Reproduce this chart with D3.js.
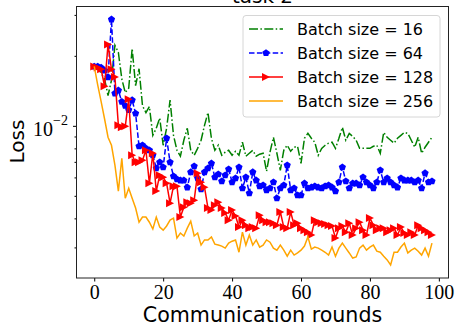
<!DOCTYPE html>
<html>
<head>
<meta charset="utf-8">
<script src="https://cdn.jsdelivr.net/npm/d3@7"></script>
<style>
  body { margin: 0; background: #fff; }
  svg { display: block; }
</style>
</head>
<body>
<div id="chart"></div>
<script>
// loss per communication round (round = array index 0..98)
const loss16 = [
  0.0180, 0.0176, 0.0169, 0.0159, 0.0135, 0.0157, 0.0222, 0.0207, 0.0159, 0.0139,
  0.0145, 0.0215, 0.0149, 0.0176, 0.0122, 0.0114, 0.0121, 0.00910, 0.00976, 0.0108,
  0.00825, 0.00976, 0.0129, 0.00910, 0.00785, 0.00740, 0.00867, 0.00976, 0.00785, 0.00747,
  0.00800, 0.00867, 0.01005, 0.0114, 0.00884, 0.00785, 0.00825, 0.00747, 0.00770, 0.00785,
  0.00747, 0.00777, 0.00747, 0.00850, 0.00740, 0.00762, 0.00785, 0.00740, 0.00755, 0.00762,
  0.00638, 0.00770, 0.00893, 0.00762, 0.00644, 0.00785, 0.00825, 0.00777, 0.00809, 0.00817,
  0.00690, 0.00884, 0.00928, 0.00884, 0.00850, 0.00747, 0.00800, 0.00825, 0.00842, 0.00850,
  0.00800, 0.00884, 0.00985, 0.00867, 0.00928, 0.00901, 0.00867, 0.00800, 0.00800, 0.00800,
  0.00800, 0.00817, 0.00825, 0.00762, 0.00937, 0.00893, 0.00867, 0.00842, 0.00884, 0.00910,
  0.00937, 0.00928, 0.00867, 0.00809, 0.00893, 0.00762, 0.00809, 0.00850, 0.00893
];
const loss64 = [
  0.0180, 0.0180, 0.0178, 0.0173, 0.0162, 0.0287, 0.0138, 0.0142, 0.0127, 0.0122,
  0.0117, 0.0129, 0.0113, 0.00817, 0.00825, 0.00800, 0.00785, 0.00747, 0.00657, 0.00697,
  0.00664, 0.00884, 0.00697, 0.00607, 0.00589, 0.00583, 0.00583, 0.00544, 0.00632, 0.00670,
  0.00595, 0.00534, 0.00632, 0.00657, 0.00690, 0.00601, 0.00619, 0.00578, 0.00613, 0.00651,
  0.00572, 0.00595, 0.00664, 0.00539, 0.00601, 0.00513, 0.00632, 0.00583, 0.00550, 0.00555,
  0.00529, 0.00539, 0.00572, 0.00488, 0.00539, 0.00555, 0.00677, 0.00529, 0.00539, 0.00503,
  0.00503, 0.00566, 0.00539, 0.00544, 0.00550, 0.00544, 0.00539, 0.00550, 0.00555, 0.00544,
  0.00524, 0.00572, 0.00664, 0.00578, 0.00539, 0.00566, 0.00566, 0.00555, 0.00601, 0.00572,
  0.00555, 0.00539, 0.00572, 0.00644, 0.00572, 0.00595, 0.00572, 0.00555, 0.00544, 0.00595,
  0.00583, 0.00583, 0.00583, 0.00572, 0.00583, 0.00539, 0.00626, 0.00572, 0.00578
];
const loss128 = [
  0.0180, 0.0178, 0.0175, 0.0148, 0.0224, 0.0175, 0.0162, 0.01005, 0.00985, 0.00995,
  0.0130, 0.00747, 0.00697, 0.00697, 0.00711, 0.00785, 0.00566, 0.00762, 0.00524, 0.00613,
  0.00601, 0.00566, 0.00465, 0.00550, 0.00550, 0.00405, 0.00447, 0.00469, 0.00465, 0.00479,
  0.00626, 0.00572, 0.00544, 0.00443, 0.00434, 0.00456, 0.00469, 0.00443, 0.00422, 0.00393,
  0.00434, 0.00409, 0.00367, 0.00393, 0.00374, 0.00363, 0.00367, 0.00363, 0.00413, 0.00393,
  0.00385, 0.00385, 0.00381, 0.00374, 0.00426, 0.00367, 0.00363, 0.00426, 0.00374, 0.00381,
  0.00363, 0.00356, 0.00349, 0.00339, 0.00393, 0.00385, 0.00381, 0.00378, 0.00374, 0.00371,
  0.00329, 0.00363, 0.00371, 0.00349, 0.00381, 0.00339, 0.00363, 0.00385, 0.00356, 0.00339,
  0.00401, 0.00374, 0.00356, 0.00363, 0.00363, 0.00349, 0.00356, 0.00363, 0.00339, 0.00367,
  0.00346, 0.00339, 0.00349, 0.00339, 0.00374, 0.00363, 0.00356, 0.00349, 0.00339
];
const loss256 = [
  0.0180, 0.0150, 0.0127, 0.0107, 0.00893, 0.00825, 0.00677, 0.00524, 0.00725, 0.00488,
  0.00539, 0.00488, 0.00443, 0.00385, 0.00405, 0.00405, 0.00385, 0.00360, 0.00405, 0.00367,
  0.00356, 0.00371, 0.00393, 0.00401, 0.00329, 0.00346, 0.00336, 0.00363, 0.00389, 0.00336,
  0.00346, 0.00307, 0.00323, 0.00323, 0.00333, 0.00310, 0.00307, 0.00304, 0.00298, 0.00313,
  0.00319, 0.00323, 0.00286, 0.00349, 0.00307, 0.00339, 0.00307, 0.00323, 0.00301, 0.00307,
  0.00323, 0.00316, 0.00298, 0.00292, 0.00307, 0.00292, 0.00275, 0.00292, 0.00278, 0.00284,
  0.00292, 0.00304, 0.00333, 0.00295, 0.00301, 0.00298, 0.00292, 0.00286, 0.00278, 0.00301,
  0.00275, 0.00298, 0.00313, 0.00298, 0.00284, 0.00270, 0.00273, 0.00298, 0.00307, 0.00292,
  0.00301, 0.00307, 0.00289, 0.00286, 0.00275, 0.00265, 0.00252, 0.00286, 0.00286, 0.00301,
  0.00313, 0.00284, 0.00292, 0.00298, 0.00289, 0.00278, 0.00298, 0.00275, 0.00313
];
const seriesNames = ['Batch size = 16', 'Batch size = 64', 'Batch size = 128', 'Batch size = 256'];
const xTicks = [0, 20, 40, 60, 80, 100];

const MARGIN = {TOP: 6.5, BOTTOM: 47, LEFT: 76.5, RIGHT: 6.5};
const WIDTH = 455 - MARGIN.LEFT - MARGIN.RIGHT;
const HEIGHT = 325 - MARGIN.TOP - MARGIN.BOTTOM;

const svg = d3.select('#chart')
  .append('svg')
    .attr('width', 455)
    .attr('height', 325);

const g = svg.append('g')
    .attr('transform', `translate(${MARGIN.LEFT}, ${MARGIN.TOP})`);

const x = d3.scaleLinear().domain([-5.15, 102.8]).range([0, WIDTH]);
const y = d3.scaleLog().domain([0.002216, 0.0326]).range([HEIGHT, 0]);

// title, mostly cut off at the top like the original
svg.append('text')
  .attr('x', MARGIN.LEFT + WIDTH / 2)
  .attr('y', 3)
  .attr('text-anchor', 'middle')
  .attr('font-family', 'DejaVu Sans')
  .attr('font-size', 20)
  .text('task 2');

g.append('clipPath').attr('id', 'clip')
  .append('rect').attr('width', WIDTH).attr('height', HEIGHT);

const plot = g.append('g').attr('clip-path', 'url(#clip)');

const line = d3.line()
  .x((d, i) => x(i))
  .y(d => y(d));

// pentagon marker for the 64 series
const pentagon = r => {
  const pts = d3.range(5).map(k => {
    const a = -Math.PI / 2 + k * 2 * Math.PI / 5;
    return [r * Math.cos(a), r * Math.sin(a)];
  });
  return 'M' + pts.join('L') + 'Z';
};
const triRight = r => `M${r},0L${-r},${-r}L${-r},${r}Z`;

const styles = [
  {data: loss16, color: '#008000', dash: '9,2.4,1.5,2.4', marker: null},
  {data: loss64, color: '#0000ff', dash: '5.5,2.4', marker: pentagon(3.8)},
  {data: loss128, color: '#ff0000', dash: null, marker: triRight(4)},
  {data: loss256, color: '#ffa500', dash: null, marker: null}
];

styles.forEach(s => {
  plot.append('path')
    .datum(s.data)
    .attr('fill', 'none')
    .attr('stroke', s.color)
    .attr('stroke-width', 1.5)
    .attr('stroke-dasharray', s.dash)
    .attr('d', line);
  if (s.marker) {
    plot.append('g').selectAll('path')
      .data(s.data)
      .enter().append('path')
        .attr('transform', (d, i) => `translate(${x(i)}, ${y(d)})`)
        .attr('d', s.marker)
        .attr('fill', s.color);
  }
});

// axes
const xAxis = g.append('g')
  .attr('transform', `translate(0, ${HEIGHT})`)
  .call(d3.axisBottom(x).tickValues(xTicks).tickSize(3.5).tickPadding(3).tickFormat(d3.format('d')));
xAxis.select('.domain').remove();
xAxis.selectAll('text')
  .attr('font-family', 'Liberation Serif')
  .attr('font-size', 20)
  .attr('fill', '#000');

const yMinor = y.ticks().filter(v => Math.abs(Math.log10(v) - Math.round(Math.log10(v))) > 1e-6);
const yMajor = y.ticks().filter(v => Math.abs(Math.log10(v) - Math.round(Math.log10(v))) <= 1e-6);

const yMinorAxis = g.append('g')
  .call(d3.axisLeft(y).tickValues(yMinor).tickSize(2).tickFormat(''));
yMinorAxis.select('.domain').remove();

const yAxis = g.append('g')
  .call(d3.axisLeft(y).tickValues(yMajor).tickSize(3.5).tickFormat(''));
yAxis.select('.domain').remove();
yAxis.selectAll('.tick').append('text')
  .attr('x', -8.5)
  .attr('y', 9.5)
  .attr('text-anchor', 'end')
  .attr('fill', '#000')
  .attr('font-family', 'Liberation Serif')
  .attr('font-size', 20)
  .each(function(d) {
    const t = d3.select(this);
    t.append('tspan').text('10');
    t.append('tspan').attr('dy', -11).attr('font-size', 14).text('\u2212' + Math.abs(Math.round(Math.log10(d))));
  });

// frame
g.append('rect')
  .attr('width', WIDTH)
  .attr('height', HEIGHT)
  .attr('fill', 'none')
  .attr('stroke', '#222')
  .attr('stroke-width', 1);

// axis labels
svg.append('text')
  .attr('x', MARGIN.LEFT + WIDTH / 2)
  .attr('y', 321.5)
  .attr('text-anchor', 'middle')
  .attr('font-family', 'DejaVu Sans')
  .attr('font-size', 20.6)
  .text('Communication rounds');

svg.append('text')
  .attr('transform', `translate(24, 141.5) rotate(-90)`)
  .attr('text-anchor', 'middle')
  .attr('font-family', 'DejaVu Sans')
  .attr('font-size', 20)
  .text('Loss');

// legend
const legend = svg.append('g').attr('transform', 'translate(243, 15.5)');
legend.append('rect')
  .attr('width', 197)
  .attr('height', 101.5)
  .attr('rx', 3)
  .attr('fill', '#fff')
  .attr('fill-opacity', 0.8)
  .attr('stroke', '#d6d6d6');

styles.forEach((s, i) => {
  const row = legend.append('g').attr('transform', `translate(0, ${13.5 + i * 24})`);
  row.append('line')
    .attr('x1', 6).attr('x2', 40)
    .attr('stroke', s.color)
    .attr('stroke-width', 1.5)
    .attr('stroke-dasharray', s.dash);
  if (s.marker) {
    row.append('path')
      .attr('transform', 'translate(23, 0)')
      .attr('d', s.marker)
      .attr('fill', s.color);
  }
  row.append('text')
    .attr('x', 54)
    .attr('y', 6)
    .attr('font-family', 'DejaVu Sans')
    .attr('font-size', 16)
    .text(seriesNames[i]);
});
</script>
</body>
</html>
